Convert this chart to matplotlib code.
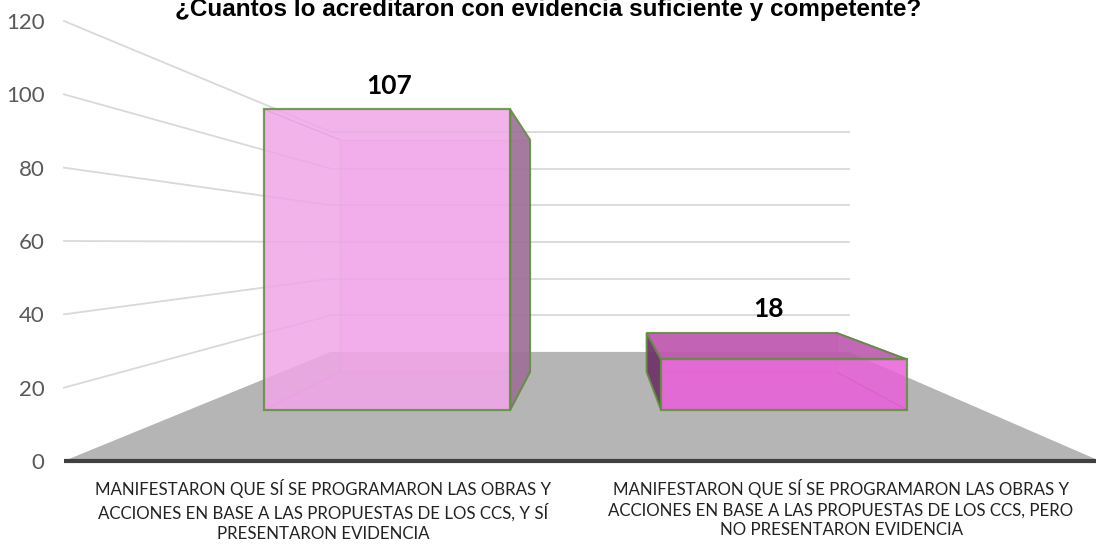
import numpy as np
import matplotlib.pyplot as plt
from matplotlib.patches import Polygon

# Datos del gráfico
categorias = [
    "MANIFESTARON QUE SÍ SE PROGRAMARON LAS OBRAS Y\nACCIONES EN BASE A LAS PROPUESTAS DE LOS CCS, Y SÍ\nPRESENTARON EVIDENCIA",
    "MANIFESTARON QUE SÍ SE PROGRAMARON LAS OBRAS Y\nACCIONES EN BASE A LAS PROPUESTAS DE LOS CCS, PERO\nNO PRESENTARON EVIDENCIA",
]
valores = [107, 18]
marcas_y = [0, 20, 40, 60, 80, 100, 120]
titulo = "¿Cuantos lo acreditaron con evidencia suficiente y competente?"

# Colores de cada barra: frente, lateral, tapa
colores_frente = ["#f0a6e8", "#e862d8"]
colores_lateral = ["#9c6f96", "#6a3264"]
colores_tapa = ["#f6b0ee", "#bd58ae"]
verde = "#5e8f3e"

# Perspectiva tipo Excel 3D (en unidades de datos del plano frontal)
VX, VY = 1.03, 59.5      # punto de fuga
S_FONDO = 0.5            # escala de la pared del fondo
S_FRENTE, S_ATRAS = 0.766, 0.592   # profundidad de las barras
ANCHO = 0.62


def proy(x, y, s):
    return VX + s * (x - VX), VY + s * (y - VY)


fig = plt.figure(figsize=(10.96, 5.44), dpi=100)
ax = fig.add_axes([64 / 1096, (544 - 461) / 544, 1036 / 1096, 440 / 544])
ax.set_xlim(0, 2)
ax.set_ylim(0, 120)
for sp in ax.spines.values():
    sp.set_visible(False)

# Líneas de cuadrícula: pared izquierda y pared del fondo
for v in marcas_y[1:]:
    xb, yb = proy(0, v, S_FONDO)
    xr, _ = proy(2, v, S_FONDO)
    ax.plot([0, xb], [v, yb], color="#d9d9d9", lw=1.3, zorder=1, clip_on=False)
    ax.plot([xb, xr], [yb, yb], color="#d9d9d9", lw=1.3, zorder=1)

# Piso gris
piso = [(0, 0), (2, 0), proy(2, 0, S_FONDO), proy(0, 0, S_FONDO)]
ax.add_patch(Polygon(piso, closed=True, facecolor="#b5b5b5", edgecolor="none", zorder=2))

# Barras 3D
for i, h in enumerate(valores):
    x0 = i + 0.5 - ANCHO / 2
    x1 = i + 0.5 + ANCHO / 2
    f = [proy(x0, 0, S_FRENTE), proy(x1, 0, S_FRENTE), proy(x1, h, S_FRENTE), proy(x0, h, S_FRENTE)]
    b = [proy(x0, 0, S_ATRAS), proy(x1, 0, S_ATRAS), proy(x1, h, S_ATRAS), proy(x0, h, S_ATRAS)]

    # cara trasera y caras ocultas (se ven por la transparencia)
    ax.add_patch(Polygon(b, facecolor=colores_frente[i], alpha=0.35,
                         edgecolor="#b27aa8", lw=0.9, zorder=3))
    ax.add_patch(Polygon([f[0], f[1], b[1], b[0]], facecolor=colores_frente[i], alpha=0.3,
                         edgecolor="#b27aa8", lw=0.9, zorder=3))

    visibles = []
    if x1 < VX:
        visibles.append(([f[1], b[1], b[2], f[2]], colores_lateral[i]))
        ax.plot([f[0][0], b[0][0]], [f[0][1], b[0][1]], color="#c58bbb", lw=0.9, zorder=3)
        ax.plot([f[3][0], b[3][0]], [f[3][1], b[3][1]], color="#c58bbb", lw=0.9, zorder=3)
    else:
        visibles.append(([f[0], b[0], b[3], f[3]], colores_lateral[i]))
        ax.plot([f[1][0], b[1][0]], [f[1][1], b[1][1]], color="#b04aa0", lw=0.9, zorder=3)
        ax.plot([f[2][0], b[2][0]], [f[2][1], b[2][1]], color="#b04aa0", lw=0.9, zorder=3)
    if h < VY:
        visibles.append(([f[3], f[2], b[2], b[3]], colores_tapa[i]))

    for poly, col in visibles:
        ax.add_patch(Polygon(poly, facecolor=col, alpha=0.9, edgecolor=verde, lw=1.4, zorder=4))
    ax.add_patch(Polygon(f, facecolor=colores_frente[i], alpha=0.85, edgecolor=verde, lw=1.6, zorder=5))

    # etiqueta de datos sobre la barra
    xs = [p[0] for p in f + b]
    ys = [p[1] for p in f + b]
    ax.annotate(str(h), ((min(xs) + max(xs)) / 2, max(ys)), xytext=(-6, 17),
                textcoords="offset points", ha="center", va="center",
                fontsize=19, fontweight="bold", family="Lato", color="black", zorder=6)

# Eje X
ax.plot([0, 2], [0, 0], color="#404040", lw=3, zorder=6, clip_on=False, solid_capstyle="butt")

ax.set_yticks(marcas_y)
ax.set_yticklabels([str(v) for v in marcas_y], fontsize=16, family="Lato", color="#595959")
ax.tick_params(axis="y", length=0, pad=14)
ax.set_xticks([0.5, 1.5])
ax.set_xticklabels(categorias, fontsize=12.2, family="Lato", color="#222222", linespacing=1.32)
ax.tick_params(axis="x", length=0, pad=13)

fig.text(0.5, 1 - 16 / 544, titulo, ha="center", va="baseline", fontsize=17.5,
         fontweight="bold", family=["Liberation Sans", "DejaVu Sans"], color="black")

fig.savefig("out.png", dpi=100)
